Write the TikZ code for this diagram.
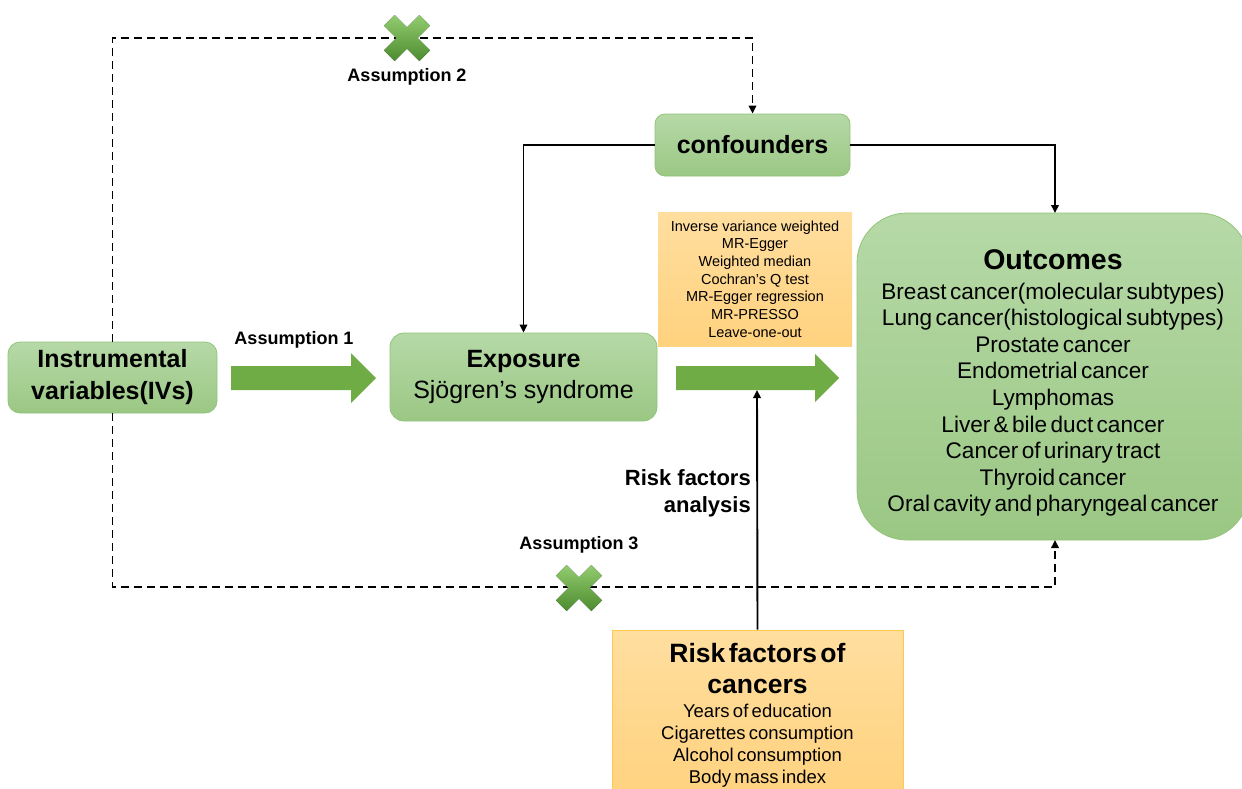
\documentclass[tikz,border=0pt]{standalone}
\usepackage{fontspec}
\setmainfont{Liberation Sans}
\usetikzlibrary{arrows.meta,calc}
\definecolor{gtop}{HTML}{B6D9A7}
\definecolor{gbot}{HTML}{9BC784}
\definecolor{gline}{HTML}{92C47A}
\definecolor{otop}{HTML}{FFDE9F}
\definecolor{obot}{HTML}{FFD27E}
\definecolor{oline}{HTML}{FFC94F}
\definecolor{arrg}{HTML}{6FAC46}
\definecolor{xtop}{HTML}{93CC70}
\definecolor{xbot}{HTML}{4C8C2E}
\begin{document}
\begin{tikzpicture}[x=1pt,y=-1pt,
  gbox/.style={draw=gline, line width=0.8pt, top color=gtop, bottom color=gbot, align=center, inner sep=0pt},
  obox/.style={draw=oline, line width=0.8pt, top color=otop, bottom color=obot, align=center, inner sep=0pt},
  conn/.style={line width=1.9pt, -{Triangle[length=8pt,width=7.5pt]}},
  dconn/.style={conn, dash pattern=on 8pt off 5pt},
  lab/.style={font=\bfseries\fontsize{18}{22}\selectfont, inner sep=0pt},
  blockarrow/.style={fill=arrg, draw=none},
  xmark/.pic={\fill[top color=xtop, bottom color=xbot]
     (-12.4,-23) -- (0,-10.6) -- (12.4,-23) -- (23,-12.4) -- (10.6,0) -- (23,12.4) -- (12.4,23) -- (0,10.6) -- (-12.4,23) -- (-23,12.4) -- (-10.6,0) -- (-23,-12.4) -- cycle;}]
\clip (0,0) rectangle (1242,788);

% boxes
\node[gbox, minimum width=209pt, minimum height=71pt, rounded corners=12pt,
      font=\bfseries\fontsize{25}{32}\selectfont] (iv) at (112.5,377.5) {Instrumental\\variables(IVs)};
\node[gbox, minimum width=267pt, minimum height=88pt, rounded corners=14pt,
      font=\fontsize{25}{31}\selectfont] (expo) at (523.5,377) {\textbf{Exposure}\\Sjögren’s syndrome};
\node[gbox, minimum width=195pt, minimum height=62pt, rounded corners=10pt,
      font=\bfseries\fontsize{25}{30}\selectfont] (conf) at (752.5,145) {confounders};
\node[obox, draw=none, minimum width=194pt, minimum height=134pt,
      font=\fontsize{14.5}{17.7}\selectfont] (meth) at (755,279) {Inverse variance weighted\\MR-Egger\\Weighted median\\Cochran’s Q test\\MR-Egger regression\\MR-PRESSO\\Leave-one-out};
\node[gbox, minimum width=392pt, minimum height=327pt, rounded corners=50pt, text width=388pt] (out) at (1053,376.5)
  {{\bfseries\fontsize{28.5}{34}\selectfont\rule{0pt}{33pt}Outcomes\par}\vspace{3pt}
   {\fontsize{22.6}{26.6}\selectfont Breast cancer(molecular subtypes)\\Lung cancer(histological subtypes)\\Prostate cancer\\Endometrial cancer\\Lymphomas\\Liver \& bile duct cancer\\Cancer of urinary tract\\Thyroid cancer\\Oral cavity and pharyngeal cancer\par}};
\node[obox, minimum width=291pt, minimum height=170pt, text width=289pt] (risk) at (757.5,715)
  {{\bfseries\fontsize{26.5}{31}\selectfont Risk factors of\\cancers\par}\vspace{2pt}
   {\fontsize{18.5}{22}\selectfont Years of education\\Cigarettes consumption\\Alcohol consumption\\Body mass index\par}};

% block arrows
\fill[blockarrow] (231,366) -- (351,366) -- (351,353) -- (376,378) -- (351,403) -- (351,390) -- (231,390) -- cycle;
\fill[blockarrow] (676,366) -- (815,366) -- (815,354) -- (839,378) -- (815,402) -- (815,390) -- (676,390) -- cycle;
\coordinate (a2b) at (757,390);

% labels
\node[lab] (as1) at (294,340) {Assumption 1};
\node[lab] (as2) at (407,77) {Assumption 2};
\node[lab] (as3) at (579,545) {Assumption 3};
\node[font=\bfseries\fontsize{22}{27}\selectfont, align=right, inner sep=0pt, anchor=east] (rfa) at (751,493) {Risk factors\\analysis};

% connectors
\coordinate (tl) at (112.5,38);
\coordinate (bl) at (112.5,587);
\coordinate (ot) at (1055,213);
\coordinate (ob) at (1055,540);
\draw[dconn] (iv.north) -- (tl) -| (conf.north);
\draw[dconn] (iv.south) -- (bl) -| (ob);
\draw[conn] (conf.west) -| (expo.north);
\draw[conn] (conf.east) -| (ot);
\draw[conn] (risk.north) -- (a2b);

% crosses
\pic at (407,38) {xmark};
\pic at (579,588) {xmark};
\end{tikzpicture}
\end{document}
